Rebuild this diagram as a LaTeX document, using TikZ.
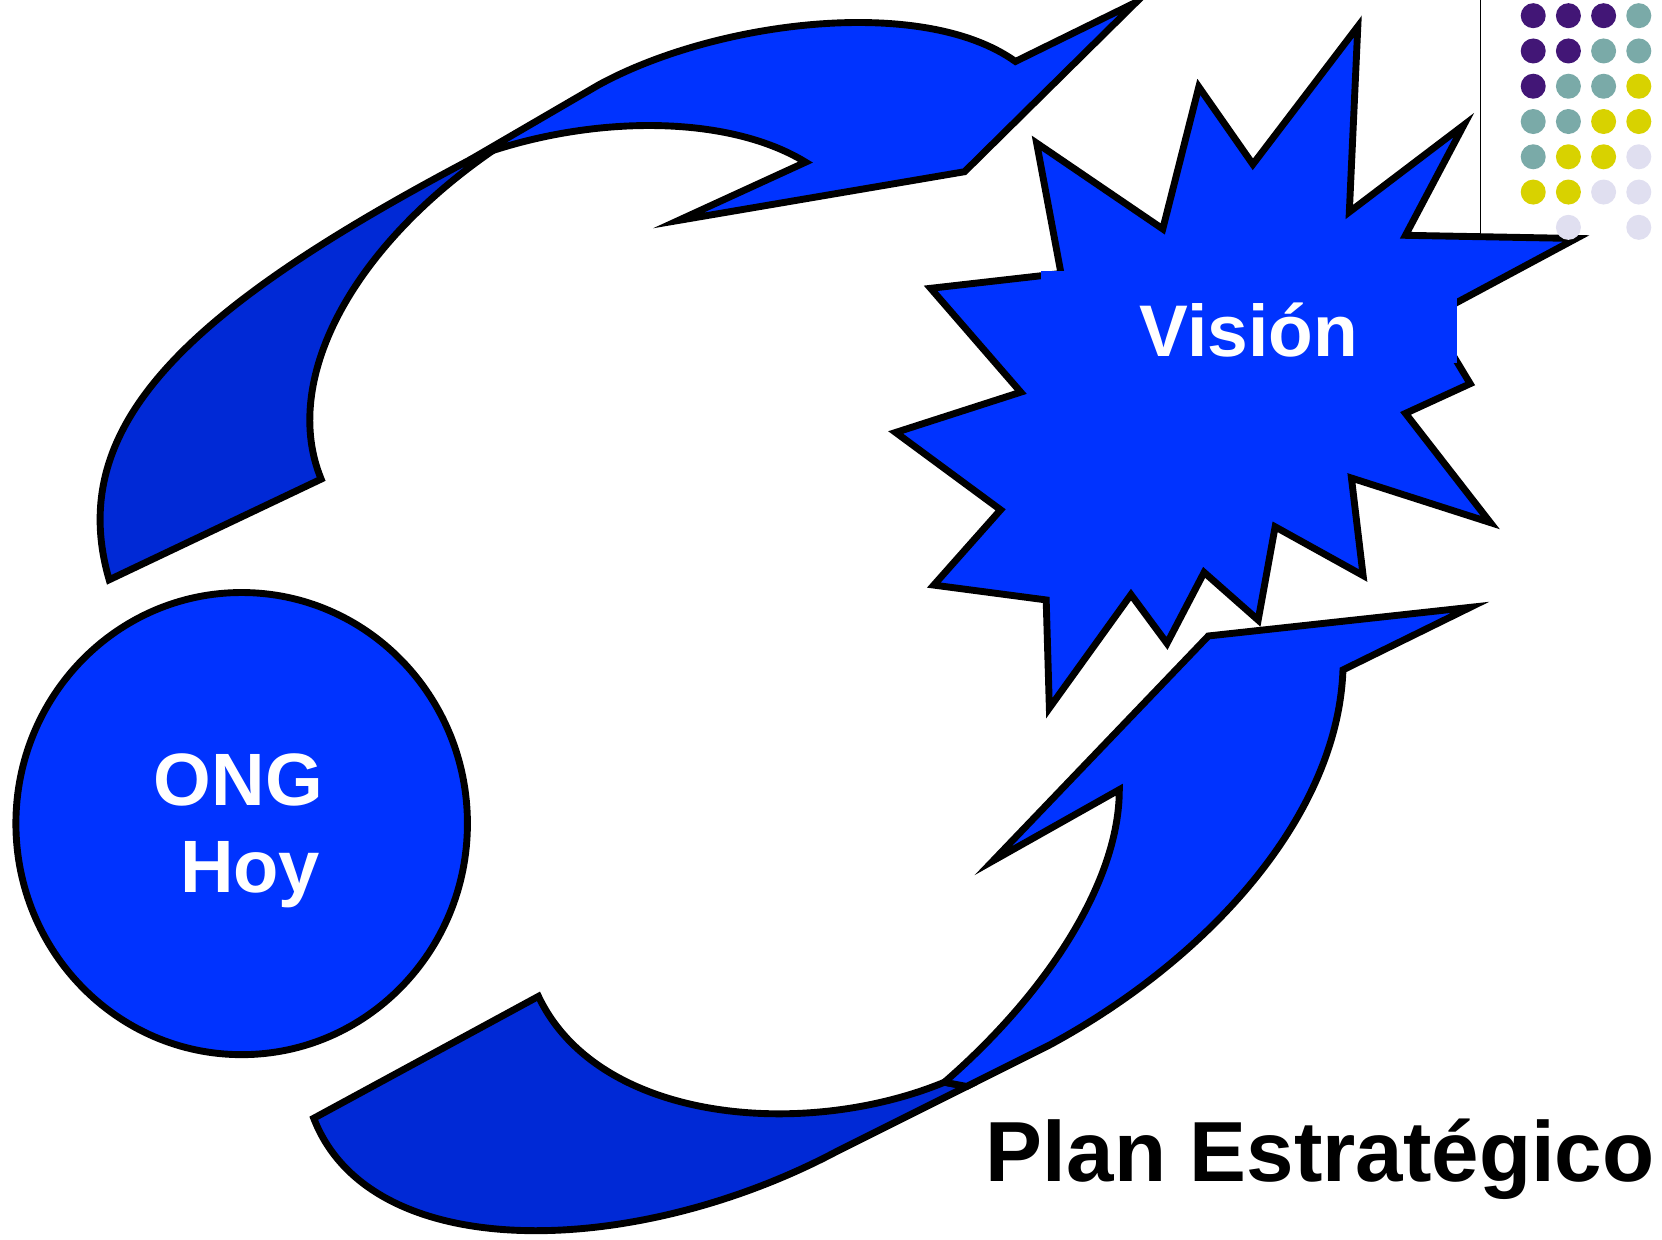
\documentclass[tikz,border=0pt]{standalone}
\usepackage{fontspec}
\setmainfont{Liberation Sans}
\usetikzlibrary{shapes.geometric}
\definecolor{bblue}{RGB}{0,51,255}
\definecolor{dblue}{RGB}{0,41,214}
\definecolor{dpurple}{RGB}{66,22,118}
\definecolor{dteal}{RGB}{122,170,168}
\definecolor{dyellow}{RGB}{216,210,0}
\definecolor{dlav}{RGB}{224,223,240}
\begin{document}
\begin{tikzpicture}[x=1pt,y=-1pt,
  band/.style={draw=black, line width=6.5pt, line join=miter, miter limit=12},
  whitetext/.style={text=white, font=\bfseries\fontsize{70}{84}\selectfont, inner sep=0pt},
  dotP/.style={fill=dpurple}, dotT/.style={fill=dteal},
  dotY/.style={fill=dyellow}, dotL/.style={fill=dlav}]
\useasboundingbox (0,0) rectangle (1568,1169);

% upper curved arrow
\path[band, fill=dblue] (103,547) .. controls (60,400) and (180,290) .. (443,151)
  -- (465,142) .. controls (330,235) and (265,360) .. (303,452) -- cycle;
\path[band, fill=bblue] (443,151) -- (565,80) .. controls (675,20) and (870,-5) .. (958,58)
  -- (1072,2) -- (910,162) -- (640,208) -- (760,153)
  .. controls (690,110) and (570,108) .. (465,142) -- cycle;

% lower curved arrow
\path[band, fill=dblue] (296,1055) -- (508,940) .. controls (565,1060) and (760,1075) .. (891,1021)
  -- (912,1025) -- (790,1086) .. controls (600,1187) and (350,1195) .. (296,1055) -- cycle;
\path[band, fill=bblue] (891,1021) .. controls (990,935) and (1056,830) .. (1056,745)
  -- (937,812) -- (1140,600) -- (1387,573) -- (1267,632)
  .. controls (1262,770) and (1140,905) .. (990,986) -- (912,1025) -- cycle;

% ONG Hoy
\node[ellipse, draw=black, line width=6.5pt, fill=bblue, inner sep=0pt,
      minimum width=426pt, minimum height=436pt] (ong) at (228,777) {};
\node[whitetext, anchor=base] (ongtxt) at (225,760) {ONG};
\node[whitetext, anchor=base] (hoytxt) at (236,842) {Hoy};

% thin vertical line
\draw[line width=1.2pt] (1397,0) coordinate (ltop) -- (1397,224) coordinate (lbot);

% star
\path[band, fill=bblue] (1281,25) -- (1273,200) -- (1381,118) -- (1326,222) -- (1487,225)
  -- (1349,299) -- (1387,362) -- (1326,390) -- (1406,493) -- (1275,451) -- (1286,543)
  -- (1203,497) -- (1187,585) -- (1136,540) -- (1101,607) -- (1067,561) -- (990,668)
  -- (987,566) -- (881,552) -- (944,481) -- (845,408) -- (963,370) -- (878,272)
  -- (1001,258) -- (978,135) -- (1097,216) -- (1131,82) -- (1182,155) -- cycle;
\node[fill=bblue, inner sep=0pt, minimum width=393pt, minimum height=86pt] (visbox) at (1178.5,299) {};
\node[whitetext, anchor=base, font=\bfseries\fontsize{69}{83}\selectfont] (vision) at (1178,336) {Visión};

% dots
\foreach \c/\r/\s in {1/1/P,2/1/P,3/1/P,4/1/T,
                      1/2/P,2/2/P,3/2/T,4/2/T,
                      1/3/P,2/3/T,3/3/T,4/3/Y,
                      1/4/T,2/4/T,3/4/Y,4/4/Y,
                      1/5/T,2/5/Y,3/5/Y,4/5/L,
                      1/6/Y,2/6/Y,3/6/L,4/6/L,
                      2/7/L,4/7/L}
  \fill[dot\s] ({1446.5+33.2*(\c-1)},{14.8+33.28*(\r-1)}) circle (11.8);

% title
\node[anchor=base west, inner sep=0pt, font=\bfseries\fontsize{80.5}{96}\selectfont] (title) at (930,1115) {Plan Estratégico};
\end{tikzpicture}
\end{document}
